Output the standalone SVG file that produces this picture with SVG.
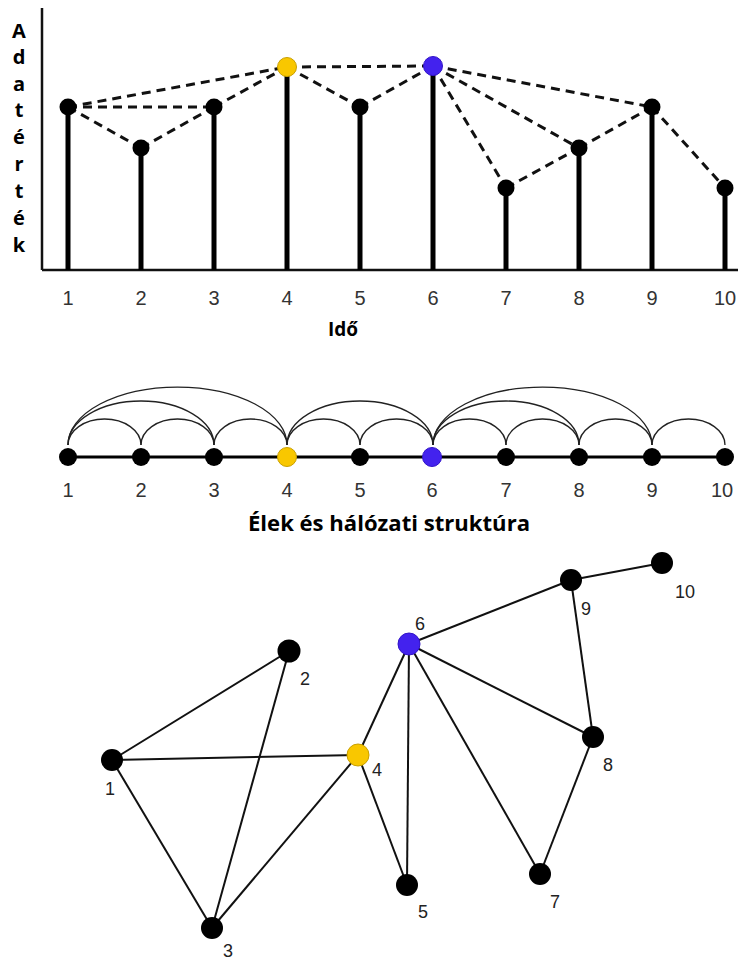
<svg xmlns="http://www.w3.org/2000/svg" width="738" height="960" viewBox="0 0 738 960">
<defs>
<style>
.axis{stroke:#111;stroke-width:2.5;fill:none}
.bar{stroke:#000;stroke-width:5}
.dash{stroke:#111;stroke-width:3;stroke-dasharray:9 6;fill:none}
.arc{stroke:#222;stroke-width:1.3;fill:none}
.edge{stroke:#111;stroke-width:2;fill:none}
.blk{fill:#000}
.yel{fill:#F9C700;stroke:#C9A000;stroke-width:1}
.blu{fill:#4322EE;stroke:#3214C8;stroke-width:1}
.num{font-family:"Liberation Sans",Arial,sans-serif;font-size:20px;fill:#333;text-anchor:middle}
.num2{font-family:"Liberation Sans",Arial,sans-serif;font-size:18px;fill:#222;text-anchor:middle}
.bold{font-family:"Open Sans","DejaVu Sans",sans-serif;font-weight:bold;fill:#000}
</style>
</defs>
<rect width="738" height="960" fill="#fff"/>

<!-- Top chart -->
<g id="chart-axes">
<line class="axis" x1="42" y1="8" x2="42" y2="270"/>
<line class="axis" x1="42" y1="270" x2="738" y2="270"/>
</g>
<g id="ylabel" class="bold" font-size="20" text-anchor="middle">
<text x="19" y="38">A</text>
<text x="19" y="64">d</text>
<text x="19" y="91">a</text>
<text x="19" y="117">t</text>
<text x="19" y="144">é</text>
<text x="19" y="171">r</text>
<text x="19" y="198">t</text>
<text x="19" y="225">é</text>
<text x="19" y="252">k</text>
</g>
<g id="bars">
<line class="bar" x1="68" y1="107" x2="68" y2="270"/>
<line class="bar" x1="141" y1="148" x2="141" y2="270"/>
<line class="bar" x1="214" y1="107" x2="214" y2="270"/>
<line class="bar" x1="287" y1="67" x2="287" y2="270"/>
<line class="bar" x1="360" y1="107" x2="360" y2="270"/>
<line class="bar" x1="433" y1="66" x2="433" y2="270"/>
<line class="bar" x1="506" y1="188" x2="506" y2="270"/>
<line class="bar" x1="579" y1="148" x2="579" y2="270"/>
<line class="bar" x1="652" y1="107" x2="652" y2="270"/>
<line class="bar" x1="725" y1="188" x2="725" y2="270"/>
</g>
<g id="chart-connectors">
<line class="dash" x1="68" y1="107" x2="287" y2="67"/>
<line class="dash" x1="68" y1="107" x2="214" y2="107"/>
<line class="dash" x1="68" y1="107" x2="141" y2="148"/>
<line class="dash" x1="141" y1="148" x2="214" y2="107"/>
<line class="dash" x1="214" y1="107" x2="287" y2="67"/>
<line class="dash" x1="287" y1="67" x2="433" y2="66"/>
<line class="dash" x1="287" y1="67" x2="360" y2="107"/>
<line class="dash" x1="360" y1="107" x2="433" y2="66"/>
<line class="dash" x1="433" y1="66" x2="652" y2="107"/>
<line class="dash" x1="433" y1="66" x2="579" y2="148"/>
<line class="dash" x1="433" y1="66" x2="506" y2="188"/>
<line class="dash" x1="506" y1="188" x2="579" y2="148"/>
<line class="dash" x1="579" y1="148" x2="652" y2="107"/>
<line class="dash" x1="652" y1="107" x2="725" y2="188"/>
</g>
<g id="chart-points">
<g id="p1"><circle class="blk" cx="68" cy="107" r="8.5"/></g>
<g id="p2"><circle class="blk" cx="141" cy="148" r="8.5"/></g>
<g id="p3"><circle class="blk" cx="214" cy="107" r="8.5"/></g>
<g id="p4"><circle class="yel" cx="287" cy="67" r="9.5"/></g>
<g id="p5"><circle class="blk" cx="360" cy="107" r="8.5"/></g>
<g id="p6"><circle class="blu" cx="433" cy="66" r="9.5"/></g>
<g id="p7"><circle class="blk" cx="506" cy="188" r="8.5"/></g>
<g id="p8"><circle class="blk" cx="579" cy="148" r="8.5"/></g>
<g id="p9"><circle class="blk" cx="652" cy="107" r="8.5"/></g>
<g id="p10"><circle class="blk" cx="725" cy="188" r="8.5"/></g>
</g>
<g id="xticks" class="num">
<text x="68" y="305">1</text>
<text x="141" y="305">2</text>
<text x="214" y="305">3</text>
<text x="287" y="305">4</text>
<text x="360" y="305">5</text>
<text x="433" y="305">6</text>
<text x="506" y="305">7</text>
<text x="579" y="305">8</text>
<text x="652" y="305">9</text>
<text x="725" y="305">10</text>
</g>
<text id="xlabel" class="bold" x="343" y="336" font-size="19" text-anchor="middle">Idő</text>

<!-- Arc diagram -->
<g id="arc-connectors">
<line x1="68" y1="457" x2="725" y2="457" stroke="#000" stroke-width="3"/>
<path class="arc" d="M68,445 A36.5,26 0 0 1 141,445"/>
<path class="arc" d="M141,445 A36.5,26 0 0 1 214,445"/>
<path class="arc" d="M214,445 A36.5,26 0 0 1 287,445"/>
<path class="arc" d="M287,445 A36.5,26 0 0 1 360,445"/>
<path class="arc" d="M360,445 A36.5,26 0 0 1 433,445"/>
<path class="arc" d="M433,445 A36.5,26 0 0 1 506,445"/>
<path class="arc" d="M506,445 A36.5,26 0 0 1 579,445"/>
<path class="arc" d="M579,445 A36.5,26 0 0 1 652,445"/>
<path class="arc" d="M652,445 A36.5,26 0 0 1 725,445"/>
<path class="arc" d="M68,445 A73,44 0 0 1 214,445"/>
<path class="arc" d="M287,445 A73,44 0 0 1 433,445"/>
<path class="arc" d="M433,445 A73,44 0 0 1 579,445"/>
<path class="arc" d="M68,445 A109.5,58 0 0 1 287,445"/>
<path class="arc" d="M433,445 A109.5,58 0 0 1 652,445"/>
</g>
<g id="arc-nodes">
<g id="a1"><circle class="blk" cx="68" cy="457" r="9"/></g>
<g id="a2"><circle class="blk" cx="141" cy="457" r="9"/></g>
<g id="a3"><circle class="blk" cx="214" cy="457" r="9"/></g>
<g id="a4"><circle class="yel" cx="287" cy="457" r="9.5"/></g>
<g id="a5"><circle class="blk" cx="360" cy="457" r="9"/></g>
<g id="a6"><circle class="blu" cx="432" cy="457" r="9.5"/></g>
<g id="a7"><circle class="blk" cx="506" cy="457" r="9"/></g>
<g id="a8"><circle class="blk" cx="579" cy="457" r="9"/></g>
<g id="a9"><circle class="blk" cx="652" cy="457" r="9"/></g>
<g id="a10"><circle class="blk" cx="725" cy="457" r="9"/></g>
</g>
<g id="arc-labels" class="num">
<text x="68" y="497">1</text>
<text x="141" y="497">2</text>
<text x="214" y="497">3</text>
<text x="287" y="497">4</text>
<text x="360" y="497">5</text>
<text x="432" y="497">6</text>
<text x="506" y="497">7</text>
<text x="579" y="497">8</text>
<text x="652" y="497">9</text>
<text x="722" y="497">10</text>
</g>
<text id="title" class="bold" x="248" y="531" font-size="21" textLength="282" lengthAdjust="spacingAndGlyphs">Élek és hálózati struktúra</text>

<!-- Network graph -->
<g id="graph-connectors">
<line class="edge" x1="112" y1="760" x2="289" y2="651"/>
<line class="edge" x1="112" y1="760" x2="358" y2="755"/>
<line class="edge" x1="112" y1="760" x2="212" y2="928"/>
<line class="edge" x1="289" y1="651" x2="212" y2="928"/>
<line class="edge" x1="212" y1="928" x2="358" y2="755"/>
<line class="edge" x1="358" y1="755" x2="409" y2="644"/>
<line class="edge" x1="358" y1="755" x2="407" y2="885"/>
<line class="edge" x1="409" y1="644" x2="407" y2="885"/>
<line class="edge" x1="409" y1="644" x2="540" y2="874"/>
<line class="edge" x1="409" y1="644" x2="593" y2="737"/>
<line class="edge" x1="409" y1="644" x2="571" y2="580"/>
<line class="edge" x1="571" y1="580" x2="593" y2="737"/>
<line class="edge" x1="593" y1="737" x2="540" y2="874"/>
<line class="edge" x1="571" y1="580" x2="662" y2="563"/>
</g>
<g id="n1"><circle class="blk" cx="112" cy="760" r="11"/><text class="num2" x="110" y="795">1</text></g>
<g id="n2"><circle class="blk" cx="289" cy="651" r="11.5"/><text class="num2" x="305" y="685">2</text></g>
<g id="n3"><circle class="blk" cx="212" cy="928" r="11"/><text class="num2" x="228" y="957">3</text></g>
<g id="n4"><circle class="yel" cx="358" cy="755" r="11"/><text class="num2" x="377" y="776">4</text></g>
<g id="n5"><circle class="blk" cx="407" cy="885" r="11"/><text class="num2" x="423" y="918">5</text></g>
<g id="n6"><circle class="blu" cx="409" cy="644" r="11"/><text class="num2" x="420" y="630">6</text></g>
<g id="n7"><circle class="blk" cx="540" cy="874" r="11"/><text class="num2" x="555" y="908">7</text></g>
<g id="n8"><circle class="blk" cx="593" cy="737" r="11"/><text class="num2" x="608" y="771">8</text></g>
<g id="n9"><circle class="blk" cx="571" cy="580" r="11"/><text class="num2" x="586" y="615">9</text></g>
<g id="n10"><circle class="blk" cx="662" cy="563" r="11"/><text class="num2" x="685" y="598">10</text></g>
</svg>
